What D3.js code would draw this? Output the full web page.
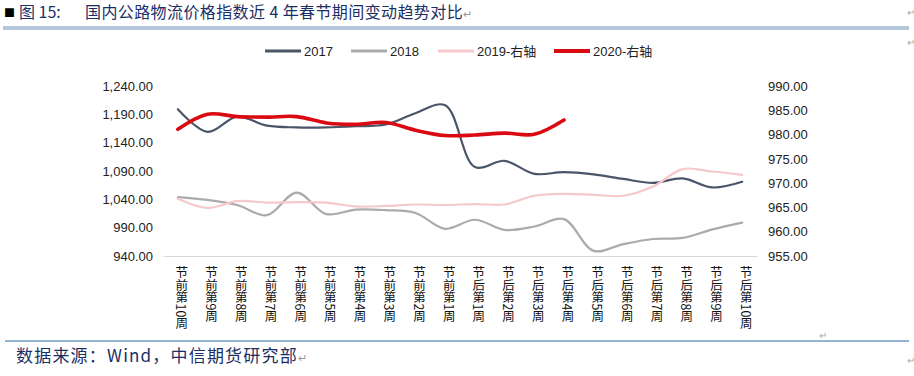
<!DOCTYPE html>
<html><head><meta charset="utf-8">
<script src="https://cdn.jsdelivr.net/npm/d3@7"></script>
<style>
html,body{margin:0;padding:0;background:#fff;}
svg{display:block;}
</style></head>
<body>
<svg id="c" width="914" height="376"></svg>
<script>
const categories = ["节前第10周","节前第9周","节前第8周","节前第7周","节前第6周","节前第5周","节前第4周","节前第3周","节前第2周","节前第1周","节后第1周","节后第2周","节后第3周","节后第4周","节后第5周","节后第6周","节后第7周","节后第8周","节后第9周","节后第10周"];
const s2017 = [1199,1159,1186,1170,1167,1167,1169,1172,1192,1206,1097,1108,1085,1088,1084,1076,1069,1077,1061,1071];
const s2018 = [1044,1039,1030,1012,1052,1014,1022,1021,1016,988,1004,986,992,1005,949,961,970,972,987,999];
const s2019 = [966.8,964.9,966.3,966.0,966.1,966.0,965.2,965.3,965.6,965.5,965.7,965.6,967.4,967.8,967.6,967.4,969.3,972.9,972.4,971.7];
const s2020 = [981.1,984.2,983.7,983.6,983.7,982.4,982.1,982.5,980.9,979.8,979.9,980.3,980.05,983.0];
const leftTicks = [940,990,1040,1090,1140,1190,1240];
const rightTicks = [955,960,965,970,975,980,985,990];
const seriesNames = ["2017","2018","2019-右轴","2020-右轴"];

const svg = d3.select("#c");
svg.append("rect").attr("width",914).attr("height",376).attr("fill","#fff");

// header
const navy = "#1B2F66";
svg.append("text").attr("x",4).attr("y",17).attr("font-size",11).attr("fill","#000").attr("font-family","Noto Sans CJK SC").text("■");
svg.append("text").attr("x",19).attr("y",18).attr("font-size",16).attr("fill",navy).attr("font-family","'Liberation Sans Narrow','Noto Sans CJK SC'").text("图 15:");
const tt = svg.append("text").attr("x",85).attr("y",18).attr("font-size",16).attr("fill",navy).attr("font-family","'Noto Sans CJK SC'").attr("letter-spacing",0.4);
tt.append("tspan").text("国内公路物流价格指数近 4 年春节期间变动趋势对比");
tt.append("tspan").attr("fill","#999").attr("font-size",11).text("↵");
svg.append("rect").attr("x",3).attr("y",26).attr("width",906).attr("height",4).attr("fill","#B4C7DA");
svg.append("text").attr("x",907).attr("y",16).attr("font-size",10).attr("fill","#aaa").text("↵");
svg.append("text").attr("x",907).attr("y",46).attr("font-size",10).attr("fill","#aaa").text("↵");

// footer
svg.append("rect").attr("x",5).attr("y",340).attr("width",904).attr("height",2).attr("fill","#95B3D7");
const ft = svg.append("text").attr("x",16).attr("y",362).attr("font-size",17).attr("fill",navy).attr("font-family","'Noto Sans CJK SC'").attr("letter-spacing",1.2);
ft.append("tspan").text("数据来源：Wind，中信期货研究部");
ft.append("tspan").attr("fill","#999").attr("font-size",11).text("↵");
svg.append("text").attr("x",819).attr("y",339).attr("font-size",10).attr("fill","#aaa").text("↵");
svg.append("text").attr("x",907).attr("y",364).attr("font-size",10).attr("fill","#aaa").text("↵");

// scales
const x = d3.scaleBand().domain(categories).range([163,757]);
const cx = d => x(d) + x.bandwidth()/2;
const yL = d3.scaleLinear().domain([940,1240]).range([256,86]);
const yR = d3.scaleLinear().domain([955,990]).range([256,86]);

const fmt = d3.format(",.2f");
const axL = svg.append("g").attr("transform","translate(157,0)")
  .call(d3.axisLeft(yL).tickValues(leftTicks).tickFormat(fmt).tickSize(0).tickPadding(4));
const axR = svg.append("g").attr("transform","translate(764,0)")
  .call(d3.axisRight(yR).tickValues(rightTicks).tickFormat(fmt).tickSize(0).tickPadding(4));
[axL,axR].forEach(a=>{
  a.select(".domain").remove();
  a.selectAll("text").attr("font-size",13).attr("font-family","'Liberation Sans',Arial").attr("fill","#222");
});

// x axis
const axX = svg.append("g").attr("transform","translate(0,256)")
  .call(d3.axisBottom(x).tickSize(0).tickFormat(""));
axX.select(".domain").attr("stroke","#D9D9D9").attr("stroke-width",1);
svg.append("g").selectAll("text").data(categories).join("text")
  .attr("x",d=>cx(d)+4).attr("y",266)
  .attr("font-size",12.5).attr("fill","#111")
  .attr("font-family","'Noto Sans CJK SC'")
  .style("writing-mode","vertical-rl").style("text-orientation","mixed")
  .text(d=>d);

// lines
const mk = (sc) => d3.line().x((d,i)=>cx(categories[i])).y(d=>sc(d)).curve(d3.curveCatmullRom.alpha(0.5));
const series = [
  {name:seriesNames[0], data:s2017, sc:yL, color:"#4A5668", w:2.2},
  {name:seriesNames[1], data:s2018, sc:yL, color:"#ABABAB", w:2.2},
  {name:seriesNames[2], data:s2019, sc:yR, color:"#F5C9CB", w:2.2},
  {name:seriesNames[3], data:s2020, sc:yR, color:"#DA0A12", w:3.6},
];
series.forEach(s=>{
  svg.append("path").datum(s.data).attr("fill","none").attr("stroke",s.color)
    .attr("stroke-width",s.w).attr("stroke-linejoin","round").attr("stroke-linecap","round")
    .attr("d",mk(s.sc));
});

// legend
const legX = [265,351,438,554];
const lg = svg.append("g");
series.forEach((s,i)=>{
  lg.append("line").attr("x1",legX[i]).attr("x2",legX[i]+36).attr("y1",51).attr("y2",51)
    .attr("stroke",s.color).attr("stroke-width",s.w+0.6);
  lg.append("text").attr("x",legX[i]+39).attr("y",56).attr("font-size",13)
    .attr("font-family","'Liberation Sans','Noto Sans CJK SC'").attr("fill","#222").text(s.name);
});
</script>
</body></html>
